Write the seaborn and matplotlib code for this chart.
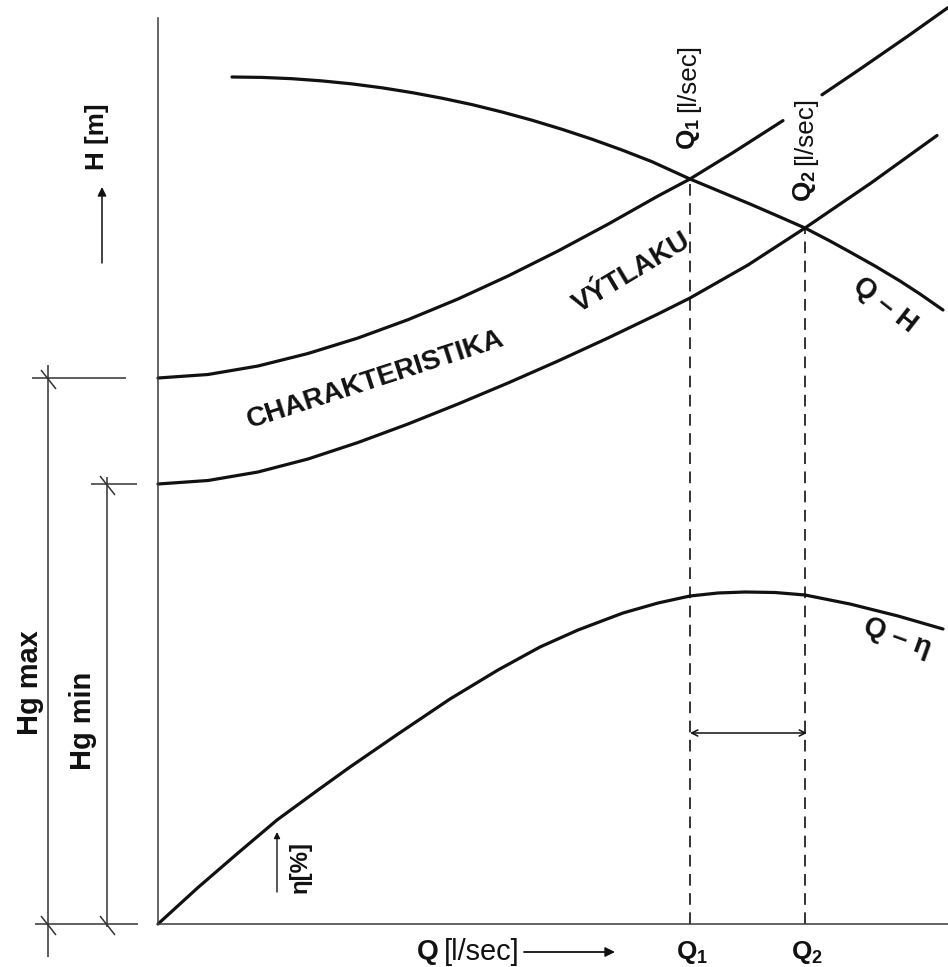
import numpy as np
import pandas as pd
import matplotlib
matplotlib.use("Agg")
import matplotlib.pyplot as plt
import seaborn as sns

# Pump characteristic Q-H  (Q in l/s, H in m)
qh_q = [7.4, 10.4, 13.4, 16.4, 19.4, 22.4, 25.4, 28.4, 31.4, 34.4, 37.4, 40.4, 43.4,
        46.4, 49.4, 53.2, 56.2, 59.2, 62.2, 64.7, 67.2, 69.2, 71.7, 74.2, 76.2, 78.5]
qh_h = [84.7, 84.66, 84.53, 84.31, 84.01, 83.62, 83.14, 82.58, 81.94, 81.2, 80.38, 79.47,
        78.48, 77.4, 76.23, 74.5, 73.25, 72.0, 70.7, 69.6, 68.3, 67.2, 65.8, 64.3, 63.0, 61.4]

# Delivery (system) characteristic for the highest static head
sysmax_q = [0, 5, 10, 15, 20, 25, 30, 35, 40, 45, 50, 53.2, 57.5, 62.5, 66.4, 70, 75, 79]
sysmax_h = [54.6, 54.95, 55.8, 57.05, 58.6, 60.43, 62.5, 64.8, 67.3, 69.98, 72.8, 74.5,
            77.14, 80.34, 82.92, 85.35, 88.8, 91.64]

# Delivery (system) characteristic for the lowest static head
sysmin_q = [0, 5, 10, 15, 20, 25, 30, 35, 40, 45, 50, 53.2, 59, 64.7, 71.3, 77.9]
sysmin_h = [44.0, 44.35, 45.2, 46.5, 48.15, 50.0, 52.0, 54.1, 56.3, 58.6, 61.0, 62.6,
            65.9, 69.6, 74.1, 78.85]

# Efficiency curve Q-eta (drawn on the same frame)
eta_q = [0, 4, 8, 11.9, 16, 19.2, 24, 29.2, 34, 38.2, 42, 46.5, 50, 53.2, 56, 58.7,
         61.7, 64.7, 69.2, 74, 78.5]
eta_h = [0, 3.65, 7.1, 10.4, 13.4, 15.7, 19.0, 22.5, 25.4, 27.7, 29.4, 31.1, 32.1, 32.8,
         33.1, 33.2, 33.15, 32.9, 32.0, 30.8, 29.5]

# Operating points and static heads
Q1, Q2 = 53.2, 64.7
HG_MAX, HG_MIN = 54.6, 44.0

INK = "#111111"
THIN = "#333333"

sns.set_theme(style="white")
plt.rcParams["font.family"] = ["Liberation Sans", "DejaVu Sans"]
plt.rcParams["mathtext.default"] = "regular"


def fs(px):
    return px * 0.72


fig = plt.figure(figsize=(9.48, 9.67), dpi=100)
ax = fig.add_axes([158 / 948, 43 / 967, 790 / 948, 906 / 967])

curve_kw = dict(color=INK, lw=2.3, estimator=None, sort=False, legend=False, ax=ax)

# Q-H pump curve
sns.lineplot(x=qh_q, y=qh_h, **curve_kw)

# upper delivery curve, interrupted where the Q2 label sits
gap = (63.0, 66.0)
up = pd.DataFrame({"Q": sysmax_q, "H": sysmax_h})
up = up[(up.Q <= gap[0]) | (up.Q >= gap[1])].copy()
up["seg"] = (up.Q >= gap[1]).astype(int)
sns.lineplot(data=up, x="Q", y="H", units="seg", **curve_kw)

# lower delivery curve
sns.lineplot(x=sysmin_q, y=sysmin_h, **curve_kw)

# efficiency curve
sns.lineplot(x=eta_q, y=eta_h, **curve_kw)

for line in ax.get_lines():
    line.set_solid_capstyle("round")
    line.set_solid_joinstyle("round")
    line.set_clip_on(False)

ax.set_xlim(0, 79.0)
ax.set_ylim(0, 90.6)
ax.set_xlabel("")
ax.set_ylabel("")
ax.set_xticks([])
ax.set_yticks([])
sns.despine(ax=ax)
for s in ("left", "bottom"):
    ax.spines[s].set_color("#3a3a3a")
    ax.spines[s].set_linewidth(1.1)

# vertical dashed lines from the operating points
h1 = np.interp(Q1, qh_q, qh_h)
h2 = np.interp(Q2, qh_q, qh_h)
dash = (0, (7, 4.5))
ax.vlines([Q1, Q2], 0, [h1, h2], colors=INK, lw=1.2, linestyles=[dash, dash])

# working range arrow between Q1 and Q2
ax.annotate("", xy=(Q2 + 0.2, 19.1), xytext=(Q1, 19.1),
            arrowprops=dict(arrowstyle="<->", lw=1.1, color=INK,
                            mutation_scale=11, shrinkA=0, shrinkB=0))

# dimension lines for the static heads
dim = dict(color=THIN, lw=1.1, clip_on=False, solid_capstyle="butt")
x_max, x_min = -11.0, -5.1
ax.plot([x_max, x_max], [HG_MAX + 1.3, -3.3], **dim)
ax.plot([x_min, x_min], [HG_MIN + 0.7, -0.3], **dim)
ax.plot([-12.6, -3.2], [HG_MAX, HG_MAX], **dim)
ax.plot([-6.7, -2.1], [HG_MIN, HG_MIN], **dim)
ax.plot([-12.3, -2.0], [0, 0], **dim)
for xx, yy in [(x_max, HG_MAX), (x_min, HG_MIN), (x_max, 0), (x_min, 0)]:
    ax.plot([xx - 0.7, xx + 0.8], [yy + 0.8, yy - 1.1], **dim)

bold = dict(fontweight="bold", color=INK)

ax.text(-12.8, 24.1, "Hg max", rotation=90, ha="center", va="center",
        fontsize=fs(29), **bold)
ax.text(-7.5, 20.3, "Hg min", rotation=90, ha="center", va="center",
        fontsize=fs(29), **bold)

# H axis label with arrow
ax.annotate("", xy=(-5.6, 73.7), xytext=(-5.6, 66.1),
            arrowprops=dict(arrowstyle="-|>", lw=1.1, color=INK,
                            mutation_scale=13, shrinkA=0, shrinkB=0),
            annotation_clip=False)
ax.text(-6.1, 78.7, "H [m]", rotation=90, ha="center", va="center",
        fontsize=fs(26), **bold)

# eta label with arrow
ax.annotate("", xy=(11.9, 9.2), xytext=(11.9, 3.2),
            arrowprops=dict(arrowstyle="-|>", lw=1.0, color=INK,
                            mutation_scale=9, shrinkA=0, shrinkB=0))
ax.text(14.2, 5.7, "η[%]", rotation=90, ha="center", va="center",
        fontsize=fs(24), **bold)

# Q axis label with arrow
qlab = ax.text(25.9, -2.8, "Q", ha="left", va="center", fontsize=fs(28), **bold)
ql2 = ax.annotate("[l/sec]", xy=(1, 0.5), xycoords=qlab, xytext=(4, 0),
                  textcoords="offset points", ha="left", va="center",
                  fontsize=fs(29), color=INK)
ax.annotate("", xy=(45.7, -2.8), xytext=(36.6, -2.8),
            arrowprops=dict(arrowstyle="-|>", lw=1.3, color=INK,
                            mutation_scale=14, shrinkA=0, shrinkB=0),
            annotation_clip=False)

for q, name in [(Q1, "Q$_1$"), (Q2, "Q$_2$")]:
    ax.text(q + 0.2, -2.8, name, ha="center", va="center", fontsize=fs(26),
            clip_on=False, **bold)

# rotated operating point labels
for q, ybot, name in [(Q1 - 0.2, 77.4, "Q$_1$"), (Q2, 72.2, "Q$_2$")]:
    t = ax.text(q, ybot, name, rotation=90, ha="center", va="bottom",
                fontsize=fs(26), **bold)
    ax.annotate("[l/sec]", xy=(0.5, 1), xycoords=t, xytext=(0, 4),
                textcoords="offset points", rotation=90, ha="center",
                va="bottom", fontsize=fs(26), color=INK)

# curve names
ax.text(21.8, 54.4, "CHARAKTERISTIKA", rotation=18, ha="center", va="center",
        fontsize=fs(28), rotation_mode="anchor", **bold)
ax.text(47.4, 65.1, "VÝTLAKU", rotation=31, ha="center", va="center",
        fontsize=fs(28), rotation_mode="anchor", **bold)
ax.text(72.7, 61.9, "Q – H", rotation=-38, ha="center", va="center",
        fontsize=fs(28), rotation_mode="anchor", **bold)
ax.text(73.9, 28.6, "Q – η", rotation=-20, ha="center", va="center",
        fontsize=fs(28), rotation_mode="anchor", **bold)

fig.savefig("out.png", dpi=100, facecolor="white")
